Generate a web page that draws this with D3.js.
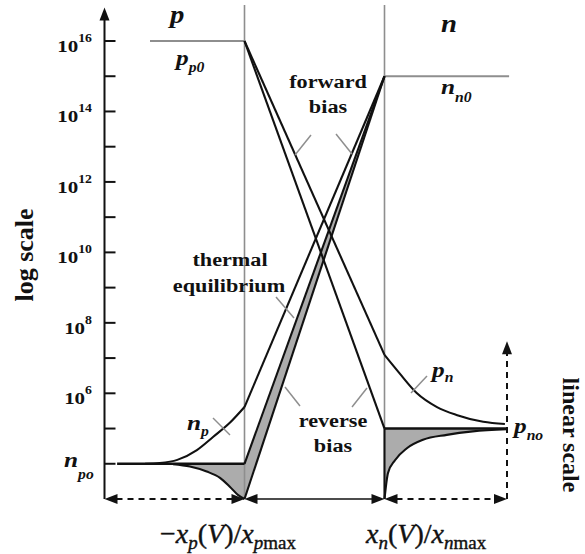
<!DOCTYPE html>
<html><head><meta charset="utf-8">
<script src="https://cdn.jsdelivr.net/npm/d3@7"></script>
<style>body{margin:0;background:#fff} svg{display:block}</style>
</head><body><svg id="c" width="585" height="554"></svg>
<script>
// ---------- data ----------
const majorExponents = [16, 14, 12, 10, 8, 6];
const minorExponents = [15, 13, 11, 9, 7, 5];
const pP0 = 1e16, nN0 = 1e15, nPo = 1e4, pNo = 1e5;
// position unit: -1 = -xp(V)/xpmax, +1 = xn(V)/xnmax
const ppoLine = [[-2.35, 1e16], [-1, 1e16]];
const nnoLine = [[1, 1e15], [2.78, 1e15]];
const eqP = [[-1, 1e16], [1, 1e5]];
const fwdP = [[-1, 1e16], [1, 1.23e7]];
const fwdPtail = [[1, 1.23e7], [1.21, 3.8e6], [1.46, 1.02e6], [1.75, 4.07e5], [2.04, 2.4e5], [2.41, 1.55e5], [2.72, 1.35e5]];
const eqN = [[1, 1e15], [-1, 1e4]];
const revN = [[1, 1e15], [-1, 1e3]];
const fwdN = [[1, 1e15], [-1, 4.07e5]];
const fwdNtail = [[-2.42, 1e4], [-2.21, 1.05e4], [-1.96, 1.29e4], [-1.68, 2.45e4], [-1.45, 5.75e4], [-1.21, 1.45e5], [-1, 4.07e5]];
const npoFlat = [[-2.82, 1e4], [-1, 1e4]];
const pnoFlat = [[1, 1e5], [2.75, 1e5]];
// linear-scale parts (below n_po on the left, below p_no on the right)
const revNtail = [[-2.02, 9900], [-1.78, 9200], [-1.54, 7800], [-1.35, 6000], [-1.21, 3500], [-1.09, 1100], [-1, 0]];
const revPtail = [[1, 0], [1.05, 37000], [1.15, 55000], [1.32, 72000], [1.55, 84000], [1.89, 91000], [2.26, 96000], [2.75, 99000]];

// ---------- scales ----------
const x = d3.scaleLinear().domain([-3, 2.75]).range([104.5, 507]);
const y = d3.scaleLog().domain([1e3, 1e16]).range([499, 41]);
const yL = d3.scaleLinear().domain([0, nPo]).range([499, y(nPo)]);
const yR = d3.scaleLinear().domain([0, pNo]).range([499, y(pNo)]);

const svg = d3.select('#c');
const FONT = '"Liberation Serif","Times New Roman",serif';
const grayC = '#8e8e8e', fillC = '#acacac', ink = '#111';

const line = d3.line().x(d => x(d[0])).y(d => y(d[1]));
const smooth = d3.line().x(d => x(d[0])).y(d => y(d[1])).curve(d3.curveMonotoneX);
const smoothL = d3.line().x(d => x(d[0])).y(d => yL(d[1])).curve(d3.curveMonotoneX);
const smoothR = d3.line().x(d => x(d[0])).y(d => yR(d[1])).curve(d3.curveMonotoneX);
const areaL = d3.area().x(d => x(d[0])).y0(yL(nPo)).y1(d => yL(d[1])).curve(d3.curveMonotoneX);
const areaR = d3.area().x(d => x(d[0])).y0(yR(pNo)).y1(d => yR(d[1])).curve(d3.curveMonotoneX);

// ---------- fills ----------
svg.append('path').attr('d', line([eqN[0], eqN[1], revN[1]]) + 'Z').attr('fill', fillC);
svg.append('path').attr('d', areaL(revNtail)).attr('fill', fillC);
svg.append('path').attr('d', areaR(revPtail)).attr('fill', fillC);

// ---------- gray guides ----------
[-1, 1].forEach(v => svg.append('line').attr('x1', x(v)).attr('x2', x(v)).attr('y1', 5).attr('y2', 499)
  .attr('stroke', grayC).attr('stroke-width', 1.6));
[ppoLine, nnoLine].forEach(d => svg.append('path').attr('d', line(d)).attr('fill', 'none')
  .attr('stroke', grayC).attr('stroke-width', 1.8));

// ---------- black curves ----------
function stroke(d, w) { svg.append('path').attr('d', d).attr('fill', 'none').attr('stroke', ink)
  .attr('stroke-width', w || 2.1).attr('stroke-linejoin', 'round'); }
stroke(line(eqP)); stroke(line(fwdP)); stroke(smooth(fwdPtail));
stroke(line(eqN)); stroke(line(revN)); stroke(line(fwdN)); stroke(smooth(fwdNtail));
stroke(smoothL(revNtail)); stroke(smoothR(revPtail));
stroke(line(npoFlat), 2.5); stroke(line(pnoFlat), 2.5);
stroke(`M${x(1)},${yR(0)}V${yR(pNo)}`, 2);

// ---------- axes ----------
const ax = x(-3);
svg.append('line').attr('x1', ax).attr('x2', ax).attr('y1', 499).attr('y2', 20).attr('stroke', ink).attr('stroke-width', 2);
function arrow(tx, ty, dir) {
  const L = 13, H = 5; let p;
  if (dir === 'up') p = [[tx, ty], [tx - H, ty + L], [tx + H, ty + L]];
  if (dir === 'left') p = [[tx, ty], [tx + L, ty - H], [tx + L, ty + H]];
  if (dir === 'right') p = [[tx, ty], [tx - L, ty - H], [tx - L, ty + H]];
  svg.append('path').attr('d', 'M' + p.join('L') + 'Z').attr('fill', ink);
}
arrow(ax, y(Math.pow(10, 16.95)), 'up');
const tickVals = majorExponents.concat(minorExponents).map(e => Math.pow(10, e)).concat([nPo]);
tickVals.forEach(v => svg.append('line').attr('x1', ax).attr('x2', ax + 11).attr('y1', y(v)).attr('y2', y(v))
  .attr('stroke', ink).attr('stroke-width', 2));
majorExponents.forEach(e => {
  const t = svg.append('text').attr('transform', `translate(92,${y(Math.pow(10, e)) + 11}) scale(1.2,1)`)
    .attr('text-anchor', 'end').attr('font-family', FONT).attr('font-weight', 'bold').attr('font-size', 17.5).attr('fill', ink);
  t.append('tspan').text('10');
  t.append('tspan').attr('font-size', 11.5).attr('dy', -10).text(e);
});

// bottom arrows
const by = 499, xl = x(-1), xr = x(1), xe = x(2.75);
function seg(x1, y1, x2, y2, dash, w) {
  svg.append('line').attr('x1', x1).attr('y1', y1).attr('x2', x2).attr('y2', y2).attr('stroke', ink)
    .attr('stroke-width', w || 2).attr('stroke-dasharray', dash || null);
}
seg(ax + 12, by, xl - 12, by, '6,5');
arrow(ax, by, 'left'); arrow(xl, by, 'right');
seg(xl + 10, by, xr - 10, by, null, 1.6);
arrow(xl, by, 'left'); arrow(xr, by, 'right');
seg(xr + 12, by, xe - 12, by, '6,5');
arrow(xr, by, 'left'); arrow(xe, by, 'right');
seg(xe, by, xe, y(3e7) + 12, '6,5');
arrow(xe, y(3e7), 'up');

// ---------- leader lines ----------
const leaders = [[311, 135, 295, 155], [336, 134, 352, 154], [276, 297, 294, 318],
  [285, 387, 300, 406], [367, 388, 352, 407], [213, 418, 230, 435], [427, 376, 411, 393]];
leaders.forEach(l => svg.append('line').attr('x1', l[0]).attr('y1', l[1]).attr('x2', l[2]).attr('y2', l[3])
  .attr('stroke', grayC).attr('stroke-width', 1.5));

// ---------- texts ----------
function word(tx, ty, s, anchor) {
  svg.append('text').attr('transform', `translate(${tx},${ty}) scale(1.17,1)`).attr('text-anchor', anchor || 'middle')
    .attr('font-family', FONT).attr('font-weight', 'bold').attr('font-size', 19).attr('fill', ink).text(s);
}
word(328, 88, 'forward'); word(328, 113, 'bias');
word(230, 266, 'thermal'); word(229, 292, 'equilibrium');
word(333, 427, 'reverse'); word(333, 452, 'bias');

function sym(tx, ty, main, sub, size, subDy) {
  const t = svg.append('text').attr('transform', `translate(${tx},${ty}) scale(1.15,1)`)
    .attr('font-family', FONT).attr('font-weight', 'bold').attr('font-style', 'italic')
    .attr('font-size', size).attr('fill', ink);
  t.append('tspan').text(main);
  if (sub) t.append('tspan').attr('font-size', size * 0.62).attr('dy', subDy).text(sub);
}
sym(170, 23, 'p', null, 25);
sym(441, 32, 'n', null, 25);
sym(176, 65, 'p', 'p0', 22, 7);
sym(441, 94, 'n', 'n0', 22, 8);
sym(64, 467, 'n', 'po', 22, 12);
sym(187, 430, 'n', 'p', 22, 6);
sym(432, 377, 'p', 'n', 22, 5);
sym(514, 433, 'p', 'no', 22, 7);

svg.append('text').attr('transform', 'translate(33,255) rotate(-90)').attr('text-anchor', 'middle')
  .attr('font-family', FONT).attr('font-weight', 'bold').attr('font-size', 26).attr('fill', ink).text('log scale');
svg.append('text').attr('transform', 'translate(563,435) rotate(90)').attr('text-anchor', 'middle')
  .attr('font-family', FONT).attr('font-weight', 'bold').attr('font-size', 24).attr('fill', ink).text('linear scale');

function axisLabel(tx, ty, minus, s) {
  const t = svg.append('text').attr('x', tx).attr('y', ty).attr('font-family', FONT).attr('font-size', 28)
    .attr('fill', ink).attr('stroke', ink).attr('stroke-width', 0.4);
  if (minus) t.append('tspan').text('\u2212');
  t.append('tspan').attr('font-style', 'italic').text('x');
  t.append('tspan').attr('font-style', 'italic').attr('font-size', 19).attr('dy', 6).text(s);
  t.append('tspan').attr('dy', -6).text('(');
  t.append('tspan').attr('font-style', 'italic').text('V');
  t.append('tspan').text(')/');
  t.append('tspan').attr('font-style', 'italic').text('x');
  t.append('tspan').attr('font-style', 'italic').attr('font-size', 19).attr('dy', 6).text(s);
  t.append('tspan').attr('font-size', 19).text('max');
}
axisLabel(160, 543, true, 'p');
axisLabel(366, 543, false, 'n');
</script></body></html>
